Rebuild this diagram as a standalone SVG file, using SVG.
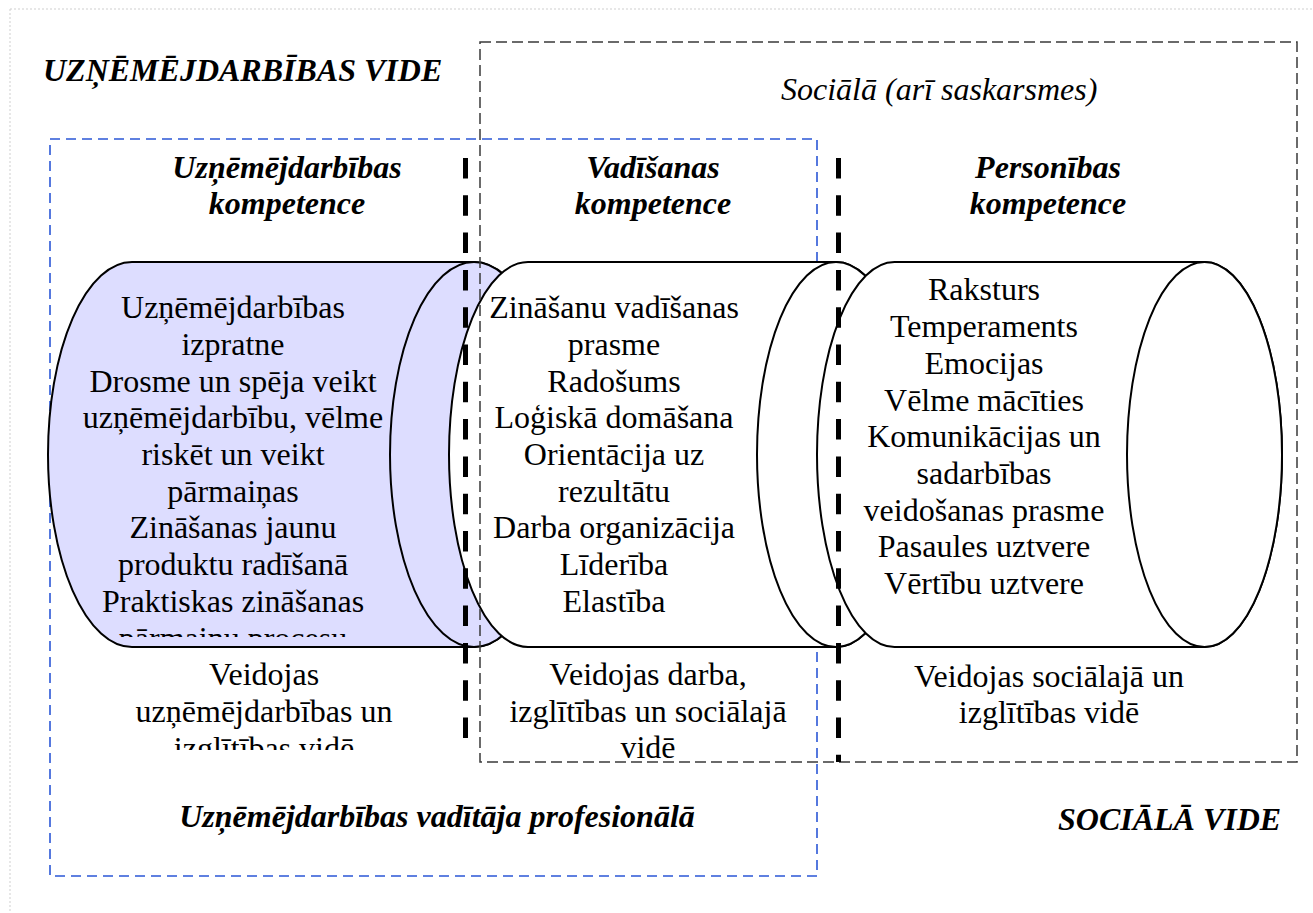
<svg xmlns="http://www.w3.org/2000/svg" width="1313" height="913" viewBox="0 0 1313 913">
<style>
.bi{font-family:"Liberation Serif","Times New Roman",serif;font-weight:bold;font-style:italic;font-size:32px;fill:#000}
.it{font-family:"Liberation Serif","Times New Roman",serif;font-style:italic;font-size:32px;fill:#000}
.tx{font-family:"Liberation Serif","Times New Roman",serif;font-size:32px;fill:#000;text-anchor:middle}
.mid{text-anchor:middle}
.cyl{stroke:#000;stroke-width:2}
.thick{stroke:#000;stroke-width:5;stroke-dasharray:20.5 16.8;fill:none}
.soc{fill:none;stroke:#3a3a3a;stroke-width:1.5;stroke-dasharray:11 5}
.blue{fill:none;stroke:#2b57d6;stroke-width:1.6;stroke-dasharray:10 6}
</style>
<defs>
<clipPath id="c1"><rect x="40" y="262" width="430" height="375"/></clipPath>
<clipPath id="c2"><rect x="100" y="650" width="340" height="100"/></clipPath>
</defs>
<rect width="1313" height="913" fill="#fff"/>
<g id="page-frame">
<path d="M10 9H1313M10 9V913" stroke="#cfcfcf" stroke-width="1" stroke-dasharray="2 2" fill="none"/>
</g>
<g id="business-env-label"><text class="bi" x="43" y="81">UZŅĒMĒJDARBĪBAS VIDE</text></g>
<g id="professional-frame">
<rect class="blue" x="50" y="139" width="767" height="737"/>
<text class="bi mid" x="437" y="827">Uzņēmējdarbības vadītāja profesionālā</text>
</g>
<g id="cyl-business">
<path class="cyl" fill="#ddddff" d="M132 262H474A84 192.5 0 0 1 474 647H132A84 192.5 0 0 1 132 262Z"/>
<ellipse class="cyl" fill="#ddddff" cx="474" cy="454.5" rx="84" ry="192.5"/>
</g>
<g id="cyl-management">
<path class="cyl" fill="#fff" d="M528 262H836A79 192.5 0 0 1 836 647H528A79 192.5 0 0 1 528 262Z"/>
<ellipse class="cyl" fill="#fff" cx="836" cy="454.5" rx="79" ry="192.5"/>
</g>
<g id="cyl-personal">
<path class="cyl" fill="#fff" d="M894.5 262H1204.5A77.5 192.5 0 0 1 1204.5 647H894.5A77.5 192.5 0 0 1 894.5 262Z"/>
<ellipse class="cyl" fill="#fff" cx="1204.5" cy="454.5" rx="77.5" ry="192.5"/>
</g>
<g id="social-frame">
<rect class="soc" x="480" y="42" width="817" height="720"/>
<text class="it" x="781" y="100">Sociālā (arī saskarsmes)</text>
</g>
<g id="connectors">
<line class="thick" x1="465.5" y1="158" x2="465.5" y2="738"/>
<line class="thick" x1="838.5" y1="158" x2="838.5" y2="762"/>
</g>
<g id="head-business">
<text class="bi mid" x="287" y="178">Uzņēmējdarbības</text>
<text class="bi mid" x="287" y="214">kompetence</text>
</g>
<g id="head-management">
<text class="bi mid" x="653" y="178">Vadīšanas</text>
<text class="bi mid" x="653" y="214">kompetence</text>
</g>
<g id="head-personal">
<text class="bi mid" x="1048" y="178">Personības</text>
<text class="bi mid" x="1048" y="214">kompetence</text>
</g>
<g id="text-business" clip-path="url(#c1)">
<text class="tx" x="233" y="318">Uzņēmējdarbības</text>
<text class="tx" x="233" y="355">izpratne</text>
<text class="tx" x="233" y="392">Drosme un spēja veikt</text>
<text class="tx" x="233" y="428">uzņēmējdarbību, vēlme</text>
<text class="tx" x="233" y="465">riskēt un veikt</text>
<text class="tx" x="233" y="502">pārmaiņas</text>
<text class="tx" x="233" y="538">Zināšanas jaunu</text>
<text class="tx" x="233" y="575">produktu radīšanā</text>
<text class="tx" x="233" y="612">Praktiskas zināšanas</text>
<text class="tx" x="233" y="649">pārmaiņu procesu</text>
</g>
<g id="text-management">
<text class="tx" x="614" y="318">Zināšanu vadīšanas</text>
<text class="tx" x="614" y="355">prasme</text>
<text class="tx" x="614" y="392">Radošums</text>
<text class="tx" x="614" y="428">Loģiskā domāšana</text>
<text class="tx" x="614" y="465">Orientācija uz</text>
<text class="tx" x="614" y="502">rezultātu</text>
<text class="tx" x="614" y="538">Darba organizācija</text>
<text class="tx" x="614" y="575">Līderība</text>
<text class="tx" x="614" y="612">Elastība</text>
</g>
<g id="text-personal">
<text class="tx" x="984" y="300">Raksturs</text>
<text class="tx" x="984" y="337">Temperaments</text>
<text class="tx" x="984" y="374">Emocijas</text>
<text class="tx" x="984" y="411">Vēlme mācīties</text>
<text class="tx" x="984" y="447">Komunikācijas un</text>
<text class="tx" x="984" y="484">sadarbības</text>
<text class="tx" x="984" y="521">veidošanas prasme</text>
<text class="tx" x="984" y="557">Pasaules uztvere</text>
<text class="tx" x="984" y="594">Vērtību uztvere</text>
</g>
<g id="origin-business" clip-path="url(#c2)">
<text class="tx" x="264" y="685">Veidojas</text>
<text class="tx" x="264" y="722">uzņēmējdarbības un</text>
<text class="tx" x="264" y="759">izglītības vidē</text>
</g>
<g id="origin-management">
<text class="tx" x="648" y="685">Veidojas darba,</text>
<text class="tx" x="648" y="722">izglītības un sociālajā</text>
<text class="tx" x="648" y="758">vidē</text>
</g>
<g id="origin-personal">
<text class="tx" x="1049" y="687">Veidojas sociālajā un</text>
<text class="tx" x="1049" y="723">izglītības vidē</text>
</g>
<g id="social-env-label"><text class="bi" x="1058" y="830">SOCIĀLĀ VIDE</text></g>
</svg>
